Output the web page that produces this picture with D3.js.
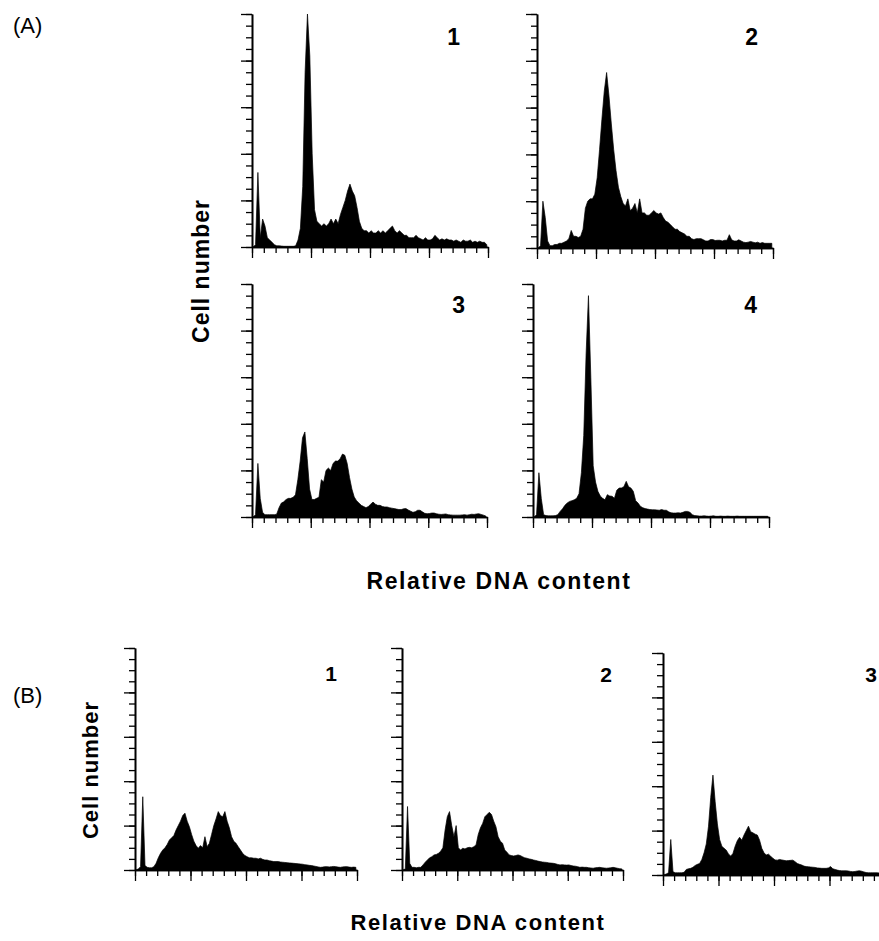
<!DOCTYPE html>
<html>
<head>
<meta charset="utf-8">
<script src="https://cdn.jsdelivr.net/npm/d3@7"></script>
<style>
  body { margin: 0; background: #fff; }
  text { font-family: "Liberation Sans", Arial, Helvetica, sans-serif; fill: #000; }
</style>
</head>
<body>
<svg width="879" height="941"></svg>
<script>
// histogram counts, 100 channels of width 2 on a 0-200 DNA scale, cell number 0-100
var a1 = [0,1,32,4,12,9,4,3,2,1, 0.5,0.5,0.4,0.3,0.3,0.3,0.3,0.3,0.5,3,
          8,26,75,100,82,40,16,11,10,9, 10,9,10,12,10,12,10,14,17,20,
          24,27,24,22,17,11,8,7,7,6, 7,6,6,7,6,7,6,7,8,9,
          7,6,7,6,5,5,4,4,4,5, 4,3.5,3,4,3,3,3.5,5,4,3,
          3.5,3,3.5,3,3,2.5,3,2.5,2,3, 2.5,2.5,3,2,2.5,2,2.5,2,2,1];
var a2 = [0,1,20,13,3,1,1,1.5,1.5,2, 2,2.5,3,4,7.5,5,5,4.5,5,8,
          17,20,21,21,23,30,42,55,67,75, 65,53,42,33,26,22,19,18,21,16,
          17,19,15,21,15,15,14,14,15,16, 15,14.5,15,13,11.5,11,10,9,8,8,
          7,6.5,6,5,5,4,3.6,4,4,4, 3.5,3,3,3.6,3.6,3.2,3.3,3.3,3,3.3,
          3.3,5.7,3.5,3,3,3.5,3,2.5,2.3,2.5, 2.8,2.5,2.2,2.5,2,2.3,2,2,2,2];
var a3 = [0,1,23,8,2,1,1,1,1,1, 1.2,4,6,6.5,7.5,8,8,8.5,9.5,16,
          24,34,36.5,25,12,7.5,7.5,8,8.5,16, 15,20,21,20,23,24,24,25,27,26.5,
          23,17,12,8.6,7,6,5,4.5,4,4.5, 5.5,6.4,5.5,5,5,4.5,4.3,4.3,4,3.8,
          3.6,3.4,3.2,3.2,3.5,3.6,3,2.5,2,2.3, 2.9,2.9,2.2,1.6,1.4,1.5,1.7,1.7,1.4,1.2,
          1.1,1.2,1.3,1,0.9,0.8,0.8,0.8,0.8,0.9, 1,0.8,1,1.2,1.1,1.3,1.4,1.1,0.8,0.4];
var a4 = [0,1,19,8,1,0.6,0.5,0.5,0.5,0.6, 1,2.4,3.5,5,6,6.7,7,7.4,8,10,
          19,35,70,95,60,22,15,11,9,8, 7.4,9.6,9,8.9,8,11.5,12.4,12.5,13,15.3,
          13,12.4,11,7,6,4.6,4,3.6,3.4,3.2, 3.1,3.1,3,2.9,3.2,2.9,2.9,2.2,1.8,1.7,
          1.7,1.8,1.7,2,2.4,2.4,2,1,0.6,0.5, 0.4,0.4,0.5,0.4,0.3,0.4,0.5,0.3,0.3,0.4,
          0.3,0.3,0.4,0.3,0.3,0.3,0.4,0.3,0.3,0.3, 0.3,0.3,0.3,0.3,0.3,0.3,0.3,0.3,0.3,0.3];
var b1 = [0,0.5,1.5,33,2,1.2,1,1,1.5,3, 5.5,7.5,9,10,11.5,13.5,14.5,15.5,18,20,
          22,24.5,25.6,22,19.5,16,13,11,9.8,11, 10,15,10.5,12,16,20,23,26.3,24.5,24,
          26.3,22,19,15,13,12,10.5,9,7.5,6.5, 6,5.5,5.5,5.3,5.3,5,5.3,4.8,4.5,4.5,
          4.2,4,3.8,3.8,3.8,3.6,3.5,3.4,3.3,3.2, 3.1,3,2.9,2.8,2.7,2.6,2.4,2.3,2.1,2,
          1.8,1.6,1.4,1.2,1.3,1.5,1.5,1.4,1.5,1.6, 1.5,1.3,1.2,1.4,1.5,1.5,1.3,1.2,1.3,1.2];
var b2 = [0,0.5,28.6,3,1.2,1.2,1,1.2,1.2,2.3, 3.5,4.5,5.5,6,6.8,7,7.5,8.5,10,18,
          24,26.3,20,15,20,10,9,9.8,9.5,10, 10.2,10,10.5,11.3,16,19,21,24,25,26,
          25,22,19.5,15,13,12,9,8,6.8,6.5, 6.3,6.5,6.8,6.5,6,5.5,5.3,5,4.8,4.5,
          4.3,4,3.8,3.6,3.5,3.4,3.2,3.1,3,2.8, 2.5,2.3,2.4,2.3,2.2,2.3,2,1.8,1.7,1.5,
          1.2,1.3,1.2,1.2,1,0.9,0.8,1,1.1,1.2, 1,0.9,0.8,0.9,1,1.2,1,0.8,0.6,0.5];
var b3 = [0,0.5,1,16,1.5,1,1,1,1,1.2, 2.5,2.8,3,3.5,4.3,4.8,5.2,7,10,14,
          22,35,45,33,23,16,13,12,11.2,9.5, 8.5,9.7,13,15.5,17,15.7,18,20,22,19.5,
          19,18.4,18,15.7,12,10,9,9.4,8.5,7.5, 6.8,6.7,7,6.8,6.6,6.4,6.5,6.6,6.7,6,
          5.2,4.8,4.5,4,3.8,3.7,3.6,3.5,3.4,3.2, 3.1,3,3,3,3.2,3.8,2.8,2.5,2.2,2,
          1.9,1.9,1.9,1.8,1.6,1.5,1.6,1.8,1.9,1.7, 1.4,1.1,1,1,1,1,1,0.9,0.8,0.8];

var panelNames = ["1", "2", "3", "4", "1", "2", "3"];
var xMajor = [0, 50, 100, 150, 200],
    yMajor = [0, 20, 40, 60, 80, 100];
var xLabel = "Relative DNA content",
    yLabel = "Cell number",
    groupNames = ["(A)", "(B)"];

var svg = d3.select("svg");

// where each small histogram sits on the page
var panels = [
  {data: a1, left: 252, top: 14,  w: 236, h: 233, labelX: 460, labelY: 45,  fs: 23},
  {data: a2, left: 537, top: 14,  w: 236, h: 234, labelX: 758, labelY: 45,  fs: 23},
  {data: a3, left: 252, top: 284, w: 235, h: 233, labelX: 465, labelY: 313, fs: 23},
  {data: a4, left: 533, top: 284, w: 236, h: 233, labelX: 757, labelY: 313, fs: 23},
  {data: b1, left: 135, top: 648, w: 222, h: 222, labelX: 337, labelY: 681, fs: 21},
  {data: b2, left: 402, top: 648, w: 221, h: 222, labelX: 612, labelY: 682, fs: 21},
  {data: b3, left: 663, top: 653, w: 222, h: 222, labelX: 877, labelY: 682, fs: 21}
];

var xMinor = d3.range(0, 201, 10),
    yMinor = d3.range(0, 101, 5);

panels.forEach(function(p, k) {
  var x = d3.scaleLinear().domain([0, 200]).range([0, p.w]);
  var y = d3.scaleLinear().domain([0, 100]).range([p.h, 0]);

  var g = svg.append("g")
    .attr("transform", "translate(" + p.left + "," + p.top + ")");

  var area = d3.area()
    .x(function(d, i) { return x(i * 2 + 1); })
    .y0(y(0))
    .y1(function(d) { return y(d); });

  g.append("path")
    .datum(p.data)
    .attr("d", area)
    .attr("fill", "#000")
    .attr("stroke", "#000")
    .attr("stroke-width", 0.7)
    .attr("stroke-linejoin", "miter");

  // y axis, minor then major ticks pointing left
  g.append("g").call(d3.axisLeft(y).tickValues(yMinor).tickSize(6).tickSizeOuter(0).tickFormat(""));
  g.append("g").call(d3.axisLeft(y).tickValues(yMajor).tickSize(11).tickSizeOuter(0).tickFormat(""));

  // x axis, ticks pointing down
  var xg = g.append("g").attr("transform", "translate(0," + p.h + ")");
  xg.append("g").call(d3.axisBottom(x).tickValues(xMinor).tickSize(6).tickSizeOuter(0).tickFormat(""));
  xg.append("g").call(d3.axisBottom(x).tickValues(xMajor).tickSize(11).tickSizeOuter(0).tickFormat(""));

  g.selectAll(".domain").attr("stroke", "#000").attr("stroke-width", 1.6);
  g.selectAll(".tick line").attr("stroke", "#000").attr("stroke-width", 1.3);

  svg.append("text")
    .attr("x", p.labelX)
    .attr("y", p.labelY)
    .attr("text-anchor", "end")
    .attr("font-weight", "bold")
    .attr("font-size", p.fs + "px")
    .text(panelNames[k]);
});

// group letters
svg.append("text").attr("x", 13).attr("y", 33).attr("font-size", "22px").text(groupNames[0]);
svg.append("text").attr("x", 13).attr("y", 703).attr("font-size", "22px").text(groupNames[1]);

// axis titles
function yTitle(cx, cy, fs) {
  svg.append("text")
    .attr("transform", "translate(" + cx + "," + cy + ") rotate(-90)")
    .attr("text-anchor", "middle")
    .attr("font-weight", "bold")
    .attr("font-size", fs + "px")
    .attr("letter-spacing", "1px")
    .text(yLabel);
}
function xTitle(cx, cy, fs) {
  svg.append("text")
    .attr("x", cx)
    .attr("y", cy)
    .attr("text-anchor", "middle")
    .attr("font-weight", "bold")
    .attr("font-size", fs + "px")
    .attr("letter-spacing", "1.6px")
    .text(xLabel);
}
yTitle(209, 271, 23);
xTitle(499, 589, 23);
yTitle(98, 770, 22);
xTitle(478, 930, 22);
</script>
</body>
</html>
